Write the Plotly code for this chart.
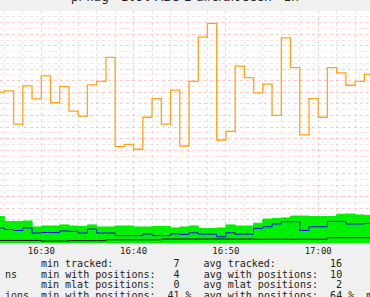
import pandas as pd
import plotly.graph_objects as go

# ---- data (per-minute samples, first sample at 16:25) ----
start_label = "2024-01-01 16:25"
tracked = [11.4, 9.3, 9.3, 9.5, 6.9, 7.3, 7.3, 7.8, 7.3, 7.1,
           7.8, 6.9, 6.9, 7.3, 7.3, 6.9, 6.9, 7.1, 7.1, 6.5,
           6.9, 7.3, 6.3, 6.3, 6.5, 7.8, 7.3, 7.3, 8.5, 10.3,
           10.6, 10.8, 11.6, 11.6, 11.4, 11.4, 11.4, 12.4, 12.5, 12.1, 11.9]
with_pos = [6.5, 5.8, 5.4, 6.5, 4.3, 4.5, 4.5, 5.2, 5.0, 4.3,
            6.0, 4.3, 4.3, 3.2, 3.2, 3.2, 3.9, 3.2, 3.2, 3.9,
            3.7, 4.4, 3.8, 3.8, 2.7, 4.4, 3.8, 3.8, 6.3, 7.0,
            8.2, 9.2, 9.2, 5.4, 7.0, 7.0, 9.3, 9.3, 8.2, 8.2, 8.4]
mlat = [1.1, 1.1, 1.1, 1.1, 1.1, 0.8, 0.8, 0.8, 1.0, 1.0,
        1.0, 1.0, 1.4, 1.4, 1.4, 1.4, 1.4, 1.4, 1.7, 1.7,
        1.7, 1.7, 1.7, 1.7, 1.7, 1.7, 1.7, 1.7, 1.6, 1.6,
        1.6, 1.6, 1.6, 1.6, 1.6, 1.6, 2.3, 2.3, 2.3, 2.3, 2.3]
pct_pos = [65.0, 65.6, 51.2, 67.7, 62.1, 72.0, 60.5, 67.4, 56.8, 54.7,
           68.2, 69.7, 80.0, 41.5, 42.5, 40.4, 54.2, 62.2, 51.2, 65.9,
           41.8, 69.7, 88.7, 94.7, 44.4, 48.1, 76.2, 71.3, 64.7, 68.5,
           55.0, 88.4, 75.6, 46.6, 62.2, 54.2, 75.6, 73.3, 68.0, 69.7, 72.7]

title = "pi-flag - 1090 ADS-B aircraft seen - 1h"
legend_rows = [
    "min tracked:          7    avg tracked:         16     max tracked:",
    "ns    min with positions:   4    avg with positions:  10     max with positions:",
    "min mlat positions:   0    avg mlat positions:   2     max mlat positions:",
    "ions  min with positions:  41 %  avg with positions:  64 %  max with positions:",
]
legend_start_idx = [0, -6, 0, -6]

W, H = 370, 297
PLOT_TOP, PLOT_BOT = 11, 243

times = pd.date_range(start_label, periods=len(tracked) + 1, freq="1min")


def ext(v):
    return list(v) + [v[-1]]


fig = go.Figure()
fig.add_trace(go.Scatter(x=times, y=ext(tracked), mode="lines", line_shape="hv",
                         line=dict(color="#00f000", width=1), fill="tozeroy",
                         fillcolor="#00f000", hoverinfo="skip"))
fig.add_trace(go.Scatter(x=times, y=ext(mlat), mode="lines", line_shape="hv",
                         line=dict(color="#000000", width=1), hoverinfo="skip"))
fig.add_trace(go.Scatter(x=times, y=ext(with_pos), mode="lines", line_shape="hv",
                         line=dict(color="#0000ff", width=1), hoverinfo="skip"))
fig.add_trace(go.Scatter(x=times, y=ext(pct_pos), mode="lines", line_shape="hv",
                         line=dict(color="#ffa31a", width=1.3), hoverinfo="skip"))

px_per_min = 9.23
x0 = pd.Timestamp("2024-01-01 16:30") - pd.Timedelta(minutes=41.3 / px_per_min)
x1 = x0 + pd.Timedelta(minutes=W / px_per_min)

fig.update_xaxes(
    type="date", range=[x0, x1], showline=False, zeroline=False,
    tick0="2024-01-01 16:30", dtick=600000, tickformat="%H:%M",
    showgrid=True, gridcolor="rgba(240,120,120,0.35)", griddash="dot", gridwidth=1,
    minor=dict(dtick=120000, tick0="2024-01-01 16:30", showgrid=True,
               gridcolor="rgba(160,160,160,0.25)", griddash="dot", gridwidth=1),
    tickfont=dict(family="DejaVu Sans Mono", size=9, color="#222"),
    ticks="", ticklabelstandoff=1,
)
fig.update_yaxes(
    range=[0, 100], showticklabels=False, zeroline=False, showline=False,
    dtick=5, showgrid=True, gridcolor="rgba(245,110,110,0.35)", griddash="dot",
    minor=dict(dtick=2.5, showgrid=True, gridcolor="rgba(230,150,150,0.25)", griddash="dot"),
)

ann = []
plot_h = PLOT_BOT - PLOT_TOP
ann.append(dict(text=title, xref="paper", yref="paper", x=185 / W,
                y=1 + (PLOT_TOP + 3) / plot_h, xanchor="center", yanchor="middle",
                showarrow=False, font=dict(family="DejaVu Sans", size=12, color="#222")))
char_w = 6.02
origin = 39.3
row_y = [263, 274, 284.5, 295]
for txt, si, yy in zip(legend_rows, legend_start_idx, row_y):
    xpx = origin + si * char_w
    ann.append(dict(text=txt.replace(" ", "\u00a0"), xref="paper", yref="paper",
                    x=xpx / W, y=(PLOT_BOT - yy) / plot_h, xanchor="left", yanchor="middle",
                    showarrow=False, font=dict(family="DejaVu Sans Mono", size=10, color="#222")))

fig.update_layout(
    width=W, height=H, margin=dict(l=0, r=0, t=PLOT_TOP, b=H - PLOT_BOT),
    paper_bgcolor="#f0f0f0", plot_bgcolor="#ffffff", showlegend=False,
    annotations=ann,
)
fig.write_html("out.html")
